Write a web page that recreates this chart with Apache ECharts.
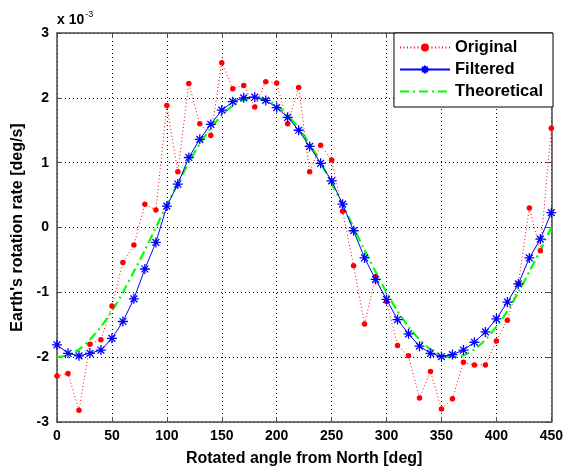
<!DOCTYPE html>
<html>
<head>
<meta charset="utf-8">
<script src="https://cdn.jsdelivr.net/npm/echarts@6/dist/echarts.min.js"></script>
<style>
  html, body { margin: 0; padding: 0; background: #fff; }
  #chart_1 { width: 566px; height: 472px; }
</style>
</head>
<body>
<div id="chart_1"></div>
<script>
// 角度 (deg)，每 10 度一个点
var angles = [0, 10, 20, 30, 40, 50, 60, 70, 80, 90,
    100, 110, 120, 130, 140, 150, 160, 170, 180, 190,
    200, 210, 220, 230, 240, 250, 260, 270, 280, 290,
    300, 310, 320, 330, 340, 350, 360, 370, 380, 390,
    400, 410, 420, 430, 440, 450];

// 数值单位: x 10^-3 deg/s
var original = [-2.29, -2.25, -2.82, -1.80, -1.73, -1.21, -0.54, -0.27, 0.36, 0.27,
    1.88, 0.86, 2.22, 1.60, 1.42, 2.54, 2.14, 2.19, 1.86, 2.25,
    2.23, 1.60, 2.16, 0.86, 1.27, 1.04, 0.25, -0.59, -1.49, -0.76,
    -1.14, -1.82, -1.98, -2.63, -2.22, -2.80, -2.64, -2.08, -2.12, -2.12,
    -1.75, -1.43, -0.87, 0.30, -0.36, 1.53];

var filtered = [-1.81, -1.94, -1.98, -1.94, -1.89, -1.71, -1.45, -1.10, -0.64, -0.23,
    0.33, 0.67, 1.08, 1.36, 1.59, 1.81, 1.94, 2.00, 2.01, 1.96,
    1.85, 1.70, 1.50, 1.25, 0.99, 0.72, 0.36, -0.05, -0.47, -0.80,
    -1.11, -1.42, -1.64, -1.83, -1.94, -1.99, -1.96, -1.89, -1.77, -1.61,
    -1.41, -1.15, -0.87, -0.47, -0.18, 0.23];

var theoretical = [-2.00, -1.97, -1.88, -1.73, -1.53, -1.29, -1.00, -0.68, -0.35, 0.00,
    0.35, 0.68, 1.00, 1.29, 1.53, 1.73, 1.88, 1.97, 2.00, 1.97,
    1.88, 1.73, 1.53, 1.29, 1.00, 0.68, 0.35, 0.00, -0.35, -0.68,
    -1.00, -1.29, -1.53, -1.73, -1.88, -1.97, -2.00, -1.97, -1.88, -1.73,
    -1.53, -1.29, -1.00, -0.68, -0.35, 0.00];

function pairs(ys) {
    var out = [];
    for (var i = 0; i < angles.length; i++) {
        out.push([angles[i], ys[i]]);
    }
    return out;
}

var FONT = 'Liberation Sans, Arial, sans-serif';
var AXIS_COLOR = '#4a4a4a';

var myChart1 = echarts.init(document.getElementById('chart_1'), null, {renderer: 'canvas'});

var starPath = 'path://M0,5L10,5M5,0L5,10M1.6,1.6L8.4,8.4M8.4,1.6L1.6,8.4';

var option = {
    backgroundColor: '#fff',
    animation: false,
    grid: {left: 57, right: 13, top: 33, bottom: 48},
    legend: {
        orient: 'vertical',
        right: 13,
        top: 33,
        itemWidth: 50,
        itemHeight: 10,
        itemGap: 5,
        padding: [6, 10, 7, 5],
        borderColor: '#000',
        borderWidth: 1,
        borderRadius: 0,
        backgroundColor: '#fff',
        textStyle: {fontFamily: FONT, fontWeight: 'bold', fontSize: 16.5, color: '#000'},
        data: [
            'Original',
            'Filtered',
            {name: 'Theoretical', itemStyle: {color: 'rgba(0,0,0,0)', borderWidth: 0, opacity: 0}}
        ]
    },
    graphic: [
        {
            type: 'text',
            left: 57,
            top: 10,
            style: {
                text: '{a|x 10}{b|-3}',
                rich: {
                    a: {fontFamily: FONT, fontWeight: 'bold', fontSize: 14, fill: '#000', verticalAlign: 'bottom'},
                    b: {fontFamily: FONT, fontSize: 9, fill: '#000', verticalAlign: 'top', padding: [0, 0, 8, 1]}
                }
            }
        }
    ],
    xAxis: [
        {
            type: 'value',
            min: 0, max: 450, interval: 50,
            position: 'bottom',
            name: 'Rotated angle from North [deg]',
            nameLocation: 'middle',
            nameGap: 29,
            nameTextStyle: {fontFamily: FONT, fontWeight: 'bold', fontSize: 16, color: '#000'},
            axisLine: {show: true, onZero: false, lineStyle: {color: AXIS_COLOR, width: 1.5}},
            axisTick: {show: true, inside: true, length: 5, lineStyle: {color: AXIS_COLOR}},
            axisLabel: {fontFamily: FONT, fontWeight: 'bold', fontSize: 14, color: '#000', margin: 7},
            splitLine: {show: true, lineStyle: {color: '#000', type: [1, 3], width: 1}}
        },
        {
            type: 'value',
            min: 0, max: 450, interval: 50,
            position: 'top',
            axisLine: {show: true, onZero: false, lineStyle: {color: AXIS_COLOR, width: 1.5}},
            axisTick: {show: true, inside: true, length: 5, lineStyle: {color: AXIS_COLOR}},
            axisLabel: {show: false},
            splitLine: {show: false}
        }
    ],
    yAxis: [
        {
            type: 'value',
            min: -3, max: 3, interval: 1,
            position: 'left',
            name: "Earth's rotation rate [deg/s]",
            nameLocation: 'middle',
            nameGap: 28,
            nameRotate: 90,
            nameTextStyle: {fontFamily: FONT, fontWeight: 'bold', fontSize: 16, color: '#000'},
            axisLine: {show: true, onZero: false, lineStyle: {color: AXIS_COLOR, width: 1.5}},
            axisTick: {show: true, inside: true, length: 5, lineStyle: {color: AXIS_COLOR}},
            axisLabel: {fontFamily: FONT, fontWeight: 'bold', fontSize: 14, color: '#000', margin: 8},
            splitLine: {show: true, lineStyle: {color: '#000', type: [1, 3], width: 1}}
        },
        {
            type: 'value',
            min: -3, max: 3, interval: 1,
            position: 'right',
            axisLine: {show: true, onZero: false, lineStyle: {color: AXIS_COLOR, width: 1.5}},
            axisTick: {show: true, inside: true, length: 5, lineStyle: {color: AXIS_COLOR}},
            axisLabel: {show: false},
            splitLine: {show: false}
        }
    ],
    series: [
        {
            name: 'Original',
            type: 'line',
            data: pairs(original),
            symbol: 'circle',
            symbolSize: 5.5,
            itemStyle: {color: '#ff0000'},
            lineStyle: {color: '#ff0000', width: 1, type: [1, 2.5]},
            z: 2
        },
        {
            name: 'Filtered',
            type: 'line',
            data: pairs(filtered),
            symbol: starPath,
            symbolSize: 10,
            itemStyle: {color: 'rgba(0,0,0,0)', borderColor: '#0000ff', borderWidth: 1.3},
            lineStyle: {color: '#0000ff', width: 1},
            z: 3
        },
        {
            name: 'Theoretical',
            type: 'line',
            data: pairs(theoretical),
            showSymbol: false,
            symbol: 'none',
            smooth: 0.3,
            itemStyle: {color: '#00ff00'},
            lineStyle: {color: '#00ff00', width: 2.2, type: [9, 4, 2, 4]},
            z: 1
        }
    ]
};

myChart1.setOption(option);
</script>
</body>
</html>
